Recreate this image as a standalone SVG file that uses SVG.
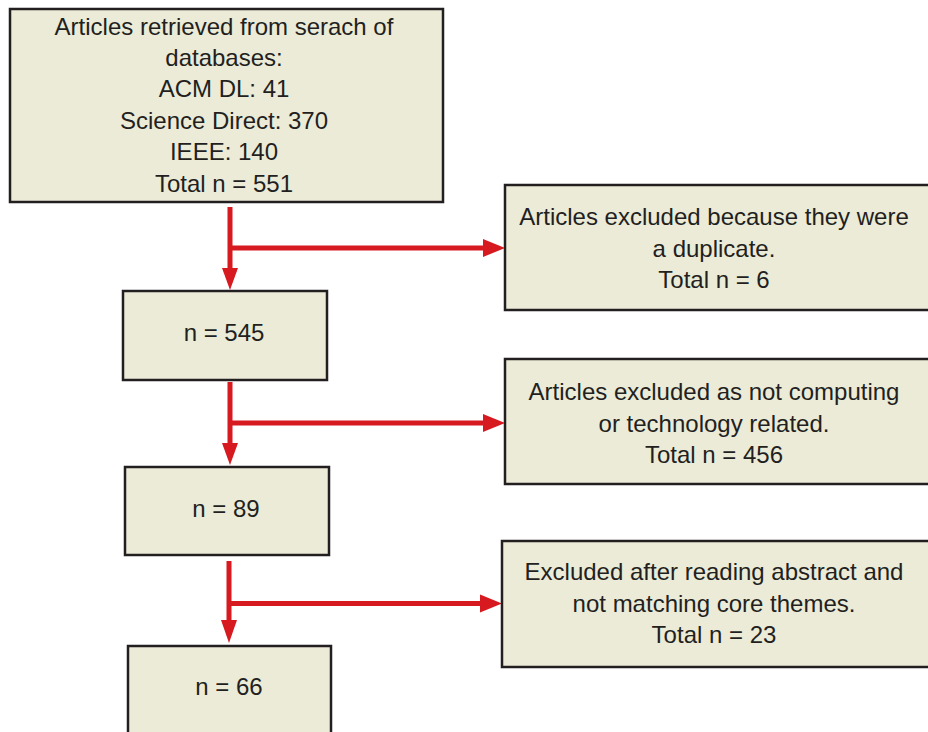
<svg xmlns="http://www.w3.org/2000/svg" width="928" height="732" viewBox="0 0 928 732">
<style>
.box{fill:#EBEBD8;stroke:#231F20;stroke-width:2.5}
.t{font-family:"Liberation Sans",Arial,sans-serif;font-size:24px;fill:#231F20;text-anchor:middle}
.ln{stroke:#D71920;stroke-width:5;fill:none}
.hd{fill:#D71920}
</style>
<rect x="0" y="0" width="928" height="732" fill="#FFFFFF"/>
<g id="connectors">
<path class="ln" d="M230,207 V270 M230,248 H485"/>
<polygon class="hd" points="222,268 238,268 230,290"/>
<polygon class="hd" points="483,239 505,248 483,257"/>
<path class="ln" d="M230,382 V445 M230,423 H485"/>
<polygon class="hd" points="222,443 238,443 230,465"/>
<polygon class="hd" points="483,414 505,423 483,432"/>
<path class="ln" d="M229,561 V622 M229,603.5 H482"/>
<polygon class="hd" points="221,620 237,620 229,643"/>
<polygon class="hd" points="480,594.5 502,603.5 480,612.5"/>
</g>
<g id="n_retrieved">
<rect class="box" x="10" y="9" width="433" height="193"/>
<text class="t" x="224" y="35">Articles retrieved from serach of</text>
<text class="t" x="224" y="66">databases:</text>
<text class="t" x="224" y="97">ACM DL: 41</text>
<text class="t" x="224" y="129">Science Direct: 370</text>
<text class="t" x="224" y="160">IEEE: 140</text>
<text class="t" x="224" y="192">Total n = 551</text>
</g>
<g id="n_dup">
<rect class="box" x="505" y="185" width="440" height="125"/>
<text class="t" x="714" y="225">Articles excluded because they were</text>
<text class="t" x="714" y="257">a duplicate.</text>
<text class="t" x="714" y="288">Total n = 6</text>
</g>
<g id="n_545">
<rect class="box" x="123" y="291" width="204" height="89"/>
<text class="t" x="224" y="341">n = 545</text>
</g>
<g id="n_notcomp">
<rect class="box" x="505" y="359" width="440" height="125"/>
<text class="t" x="714" y="400">Articles excluded as not computing</text>
<text class="t" x="714" y="432">or technology related.</text>
<text class="t" x="714" y="463">Total n = 456</text>
</g>
<g id="n_89">
<rect class="box" x="125" y="467" width="204" height="88"/>
<text class="t" x="226" y="517">n = 89</text>
</g>
<g id="n_abstract">
<rect class="box" x="502" y="541" width="440" height="126"/>
<text class="t" x="714" y="580">Excluded after reading abstract and</text>
<text class="t" x="714" y="612">not matching core themes.</text>
<text class="t" x="714" y="643">Total n = 23</text>
</g>
<g id="n_66">
<rect class="box" x="128" y="646" width="203" height="100"/>
<text class="t" x="229" y="695">n = 66</text>
</g>
</svg>
